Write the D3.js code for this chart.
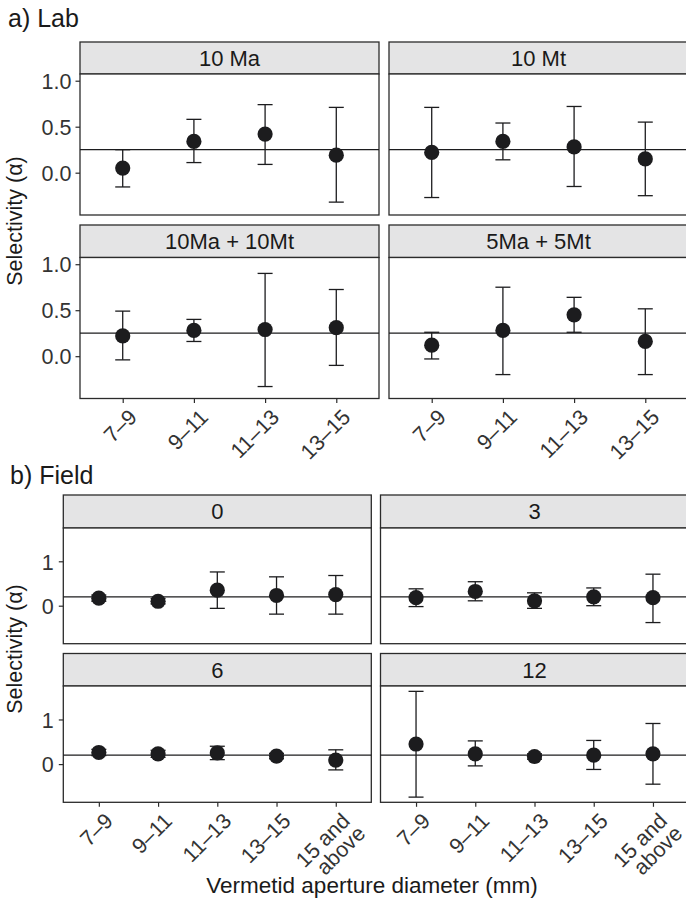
<!DOCTYPE html>
<html>
<head>
<meta charset="utf-8">
<script src="https://cdn.jsdelivr.net/npm/d3@7"></script>
<style>
  html, body { margin: 0; padding: 0; background: #fff; }
  svg { display: block; font-family: "Liberation Sans", Arial, Helvetica, sans-serif; }
</style>
</head>
<body>
<svg id="chart" width="686" height="901"></svg>
<script>
// ---------- DATA ----------
const labCategories = ["7–9", "9–11", "11–13", "13–15"];
const labPanels = ["10 Ma", "10 Mt", "10Ma + 10Mt", "5Ma + 5Mt"];
const labMean  = [[0.05, 0.34, 0.42, 0.19], [0.22, 0.34, 0.28, 0.15], [0.22, 0.28, 0.29, 0.31], [0.12, 0.28, 0.45, 0.16]];
const labLower = [[-0.155, 0.11, 0.09, -0.32], [-0.27, 0.14, -0.15, -0.25], [-0.04, 0.16, -0.33, -0.10], [-0.03, -0.20, 0.26, -0.20]];
const labUpper = [[0.25, 0.58, 0.74, 0.71], [0.71, 0.54, 0.72, 0.55], [0.49, 0.40, 0.90, 0.725], [0.26, 0.75, 0.64, 0.515]];
const labReference = 0.25;
const labTicks = [0, 0.5, 1.0];

const fieldCategories = ["7–9", "9–11", "11–13", "13–15", "15 and above"];
const fieldPanels = ["0", "3", "6", "12"];
const fieldMean  = [[0.17, 0.10, 0.35, 0.23, 0.25], [0.18, 0.32, 0.11, 0.20, 0.18], [0.26, 0.23, 0.25, 0.18, 0.09], [0.45, 0.23, 0.17, 0.20, 0.23]];
const fieldLower = [[0.10, 0.04, -0.06, -0.19, -0.19], [-0.02, 0.11, -0.06, 0.0, -0.38], [0.19, 0.15, 0.10, 0.12, -0.13], [-0.74, -0.04, 0.11, -0.12, -0.45]];
const fieldUpper = [[0.24, 0.16, 0.76, 0.65, 0.68], [0.38, 0.54, 0.29, 0.40, 0.71], [0.33, 0.31, 0.40, 0.24, 0.32], [1.63, 0.52, 0.23, 0.53, 0.91]];
const fieldReference = 0.20;
const fieldTicks = [0, 1];

// ---------- LAYOUT ----------
const svg = d3.select("#chart");
const ink = "#1c1c1e";
const frame = "#2b2b2b";

function facetBlock(cfg) {
  const g = svg.append("g");
  cfg.panels.forEach((name, i) => {
    const col = i % 2, row = Math.floor(i / 2);
    const x0 = cfg.cols[col][0], x1 = cfg.cols[col][1];
    const sTop = cfg.rows[row][0], pTop = cfg.rows[row][1], pBot = cfg.rows[row][2];

    const x = d3.scalePoint().domain(cfg.categories).range([x0, x1]).padding(0.6);
    const y = d3.scaleLinear().domain(cfg.domain).range([pBot, pTop]);

    const pg = g.append("g");
    // strip
    pg.append("rect").attr("x", x0).attr("y", sTop).attr("width", x1 - x0).attr("height", pTop - sTop)
      .attr("fill", "#e4e4e5").attr("stroke", frame).attr("stroke-width", 1.3);
    pg.append("text").attr("x", (x0 + x1) / 2).attr("y", (sTop + pTop) / 2).attr("dy", "0.36em")
      .attr("text-anchor", "middle").attr("font-size", cfg.stripFont).attr("fill", "#1a1a1a").text(name);
    // panel
    pg.append("rect").attr("x", x0).attr("y", pTop).attr("width", x1 - x0).attr("height", pBot - pTop)
      .attr("fill", "#fff").attr("stroke", frame).attr("stroke-width", 1.3);

    // reference line
    pg.append("line").attr("x1", x0).attr("x2", x1).attr("y1", y(cfg.reference)).attr("y2", y(cfg.reference))
      .attr("stroke", ink).attr("stroke-width", 1.3);

    // error bars
    const pts = cfg.categories.map((c, j) => ({c, m: cfg.mean[i][j], lo: cfg.lower[i][j], hi: cfg.upper[i][j]}));
    const eb = pg.append("g").attr("stroke", ink).attr("stroke-width", 1.3);
    pts.forEach(p => {
      eb.append("line").attr("x1", x(p.c)).attr("x2", x(p.c)).attr("y1", y(p.lo)).attr("y2", y(p.hi));
      eb.append("line").attr("x1", x(p.c) - 7.5).attr("x2", x(p.c) + 7.5).attr("y1", y(p.lo)).attr("y2", y(p.lo));
      eb.append("line").attr("x1", x(p.c) - 7.5).attr("x2", x(p.c) + 7.5).attr("y1", y(p.hi)).attr("y2", y(p.hi));
    });
    pg.selectAll("circle.pt").data(pts).join("circle").attr("class", "pt")
      .attr("cx", d => x(d.c)).attr("cy", d => y(d.m)).attr("r", 7.6).attr("fill", ink);

    // left axis only on left column
    if (col === 0) {
      const ax = pg.append("g").attr("transform", `translate(${x0},0)`)
        .call(d3.axisLeft(y).tickValues(cfg.ticks).tickSize(4.5).tickPadding(cfg.yPad).tickFormat(cfg.tickFormat));
      ax.select(".domain").remove();
      ax.selectAll("line").attr("stroke", frame).attr("stroke-width", 1.2);
      ax.selectAll("text").attr("font-size", cfg.tickFont).attr("fill", "#333").attr("dy", "0.36em");
      ax.attr("font-family", null);
    }
    // bottom axis only on bottom row
    if (row === 1) {
      const ax = pg.append("g").attr("transform", `translate(0,${pBot})`)
        .call(d3.axisBottom(x).tickSize(4.5).tickFormat(""));
      ax.select(".domain").remove();
      ax.attr("font-family", null);
      ax.selectAll("line").attr("stroke", frame).attr("stroke-width", 1.2);
      ax.selectAll(".tick").each(function(d) {
        const t = d3.select(this).append("text")
          .attr("transform", "translate(4,9) rotate(-45)")
          .attr("text-anchor", "end").attr("font-size", cfg.tickFont).attr("fill", "#333");
        const lines = d === "15 and above" ? ["15 and", "above"] : [d];
        lines.forEach((ln, k) => {
          t.append("tspan").attr("x", k === 0 ? 0 : 2).attr("dy", k === 0 ? "0.72em" : "0.92em").text(ln);
        });
      });
    }
  });
  // y title
  svg.append("text")
    .attr("transform", `translate(${cfg.yTitleX},${cfg.yTitleY}) rotate(-90)`)
    .attr("text-anchor", "middle").attr("font-size", cfg.titleFont).attr("fill", "#1a1a1a")
    .text("Selectivity (α)");
  // block label
  svg.append("text").attr("x", cfg.labelX).attr("y", cfg.labelY).attr("font-size", cfg.labelFont)
    .attr("fill", "#1a1a1a").text(cfg.label);
}

facetBlock({
  label: "a) Lab", labelX: 8, labelY: 27, labelFont: 25,
  panels: labPanels, categories: labCategories,
  mean: labMean, lower: labLower, upper: labUpper, reference: labReference,
  ticks: labTicks, tickFormat: d3.format(".1f"), yPad: 4,
  domain: [-0.46, 1.073],
  cols: [[80, 379], [389, 688]],
  rows: [[42, 74, 215], [225, 257.5, 398.5]],
  stripFont: 22, tickFont: 21.5, titleFont: 21.5,
  yTitleX: 22, yTitleY: 221
});

facetBlock({
  label: "b) Field", labelX: 10, labelY: 484, labelFont: 25,
  panels: fieldPanels, categories: fieldCategories,
  mean: fieldMean, lower: fieldLower, upper: fieldUpper, reference: fieldReference,
  ticks: fieldTicks, tickFormat: d3.format("d"), yPad: 5,
  domain: [-0.856, 1.75],
  cols: [[63.3, 371.3], [380.5, 688.5]],
  rows: [[495, 528, 643.7], [653.5, 686, 802.3]],
  stripFont: 22, tickFont: 21.5, titleFont: 21.5,
  yTitleX: 22, yTitleY: 649
});

svg.append("text").attr("x", 372).attr("y", 893).attr("text-anchor", "middle")
  .attr("font-size", 22.5).attr("fill", "#1a1a1a").text("Vermetid aperture diameter (mm)");
</script>
</body>
</html>
